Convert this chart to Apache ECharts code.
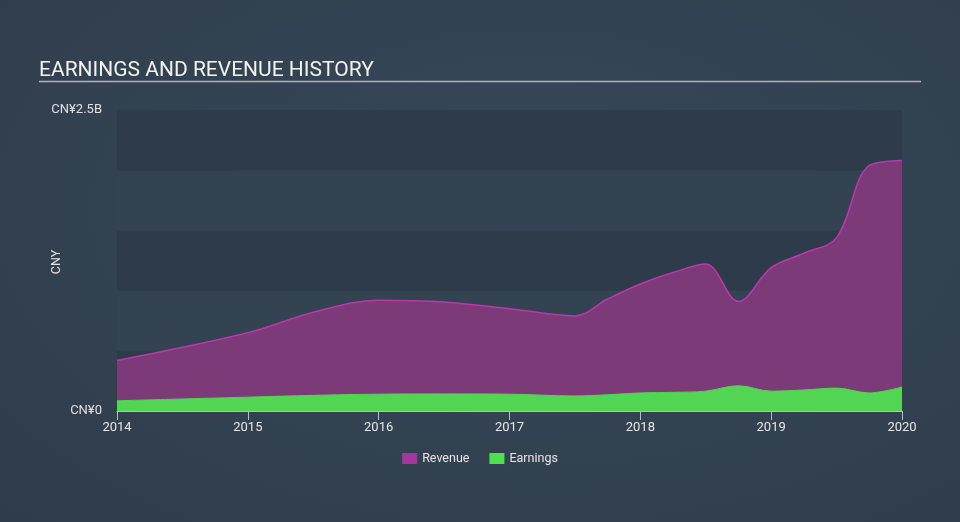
<!DOCTYPE html>
<html>
<head>
<meta charset="utf-8">
<script src="https://cdn.jsdelivr.net/npm/echarts@6/dist/echarts.min.js"></script>
<style>
html,body{margin:0;padding:0;width:960px;height:522px;overflow:hidden;
background:radial-gradient(ellipse at 55% 40%, #374859 0%, #334251 55%, #2f3c4a 100%);}
#chart{width:960px;height:522px;}
</style>
</head>
<body>
<div id="chart"></div>
<script>
// Decimal-year positions of reported periods
var periods = [2014.0, 2015.0, 2015.5, 2016.0, 2016.5, 2017.0, 2017.5, 2017.75, 2018.0, 2018.25, 2018.5, 2018.75, 2019.0, 2019.25, 2019.5, 2019.75, 2020.0];
// Values in CNY billions
var revenue = [0.42, 0.65, 0.82, 0.92, 0.905, 0.85, 0.79, 0.93, 1.055, 1.15, 1.22, 0.91, 1.19, 1.31, 1.44, 2.04, 2.08];
var earnings = [0.085, 0.115, 0.13, 0.14, 0.142, 0.14, 0.125, 0.135, 0.15, 0.155, 0.165, 0.21, 0.165, 0.175, 0.19, 0.15, 0.20];
var yTicks = {0: 'CN¥0', 2.5: 'CN¥2.5B'};
var xTickYears = [2014, 2015, 2016, 2017, 2018, 2019, 2020];
var yAxisTitle = 'CNY';

function pairs(vals){ return periods.map(function(p,i){ return [p, vals[i]]; }); }

var chart = echarts.init(document.getElementById('chart'), null, {renderer:'canvas'});
chart.setOption({
  backgroundColor: 'transparent',
  animation: false,
  title: {
    text: 'EARNINGS AND REVENUE HISTORY',
    left: 34, top: 55,
    textStyle: {color: '#f2f2f2', fontSize: 21, fontWeight: 'normal', fontFamily: 'Roboto'}
  },
  graphic: [{
    type: 'line', shape: {x1: 39, y1: 81.5, x2: 921, y2: 81.5},
    style: {stroke: '#aeb4bb', lineWidth: 1.5}
  }, {
    type: 'text', x: 57, y: 262, rotation: Math.PI / 2,
    style: {text: yAxisTitle, fill: '#e6e6e6', fontSize: 12.5, fontFamily: 'Roboto',
      textAlign: 'center', textVerticalAlign: 'middle'}
  }],
  legend: {
    bottom: 52, left: 'center', itemWidth: 15, itemHeight: 11, itemGap: 20,
    icon: 'rect',
    textStyle: {color: '#e6e6e6', fontSize: 12.5, fontFamily: 'Roboto'},
    data: [{name: 'Revenue', itemStyle: {color: '#a3389a'}}, {name: 'Earnings', itemStyle: {color: '#4fe04f'}}]
  },
  grid: {left: 117, right: 58, top: 110, bottom: 111},
  xAxis: {
    type: 'value', min: 2014, max: 2020, interval: 1,
    axisLine: {show: true, lineStyle: {color: '#b6bec7', width: 1}},
    axisTick: {show: true, length: 9, lineStyle: {color: '#b6bec7'}},
    axisLabel: {color: '#e6e6e6', fontSize: 13, fontFamily: 'Roboto', margin: 10,
      formatter: function(v){ return xTickYears.indexOf(v) >= 0 ? String(v) : ''; }},
    splitLine: {show: false}
  },
  yAxis: {
    type: 'value', min: 0, max: 2.5, interval: 0.5,
    axisLine: {show: false}, axisTick: {show: false},
    axisLabel: {color: '#e0e0e0', fontSize: 13, fontFamily: 'Roboto', margin: 15,
      formatter: function(v){ return yTicks[v] !== undefined ? yTicks[v] : ''; }},
    splitLine: {show: false},
    splitArea: {show: true, areaStyle: {color: ['#2e3b4a', '#344352']}}
  },
  series: [
    {
      name: 'Revenue', type: 'line', data: pairs(revenue), smooth: 0.35, symbol: 'none',
      lineStyle: {color: '#b73aa9', width: 1.5},
      itemStyle: {color: '#a3389a'},
      areaStyle: {color: '#7c3a78', opacity: 1}
    },
    {
      name: 'Earnings', type: 'line', data: pairs(earnings), smooth: 0.35, symbol: 'none',
      lineStyle: {color: '#52d552', width: 1},
      itemStyle: {color: '#4fe04f'},
      areaStyle: {color: '#52d552', opacity: 1}
    }
  ]
});
</script>
</body>
</html>
